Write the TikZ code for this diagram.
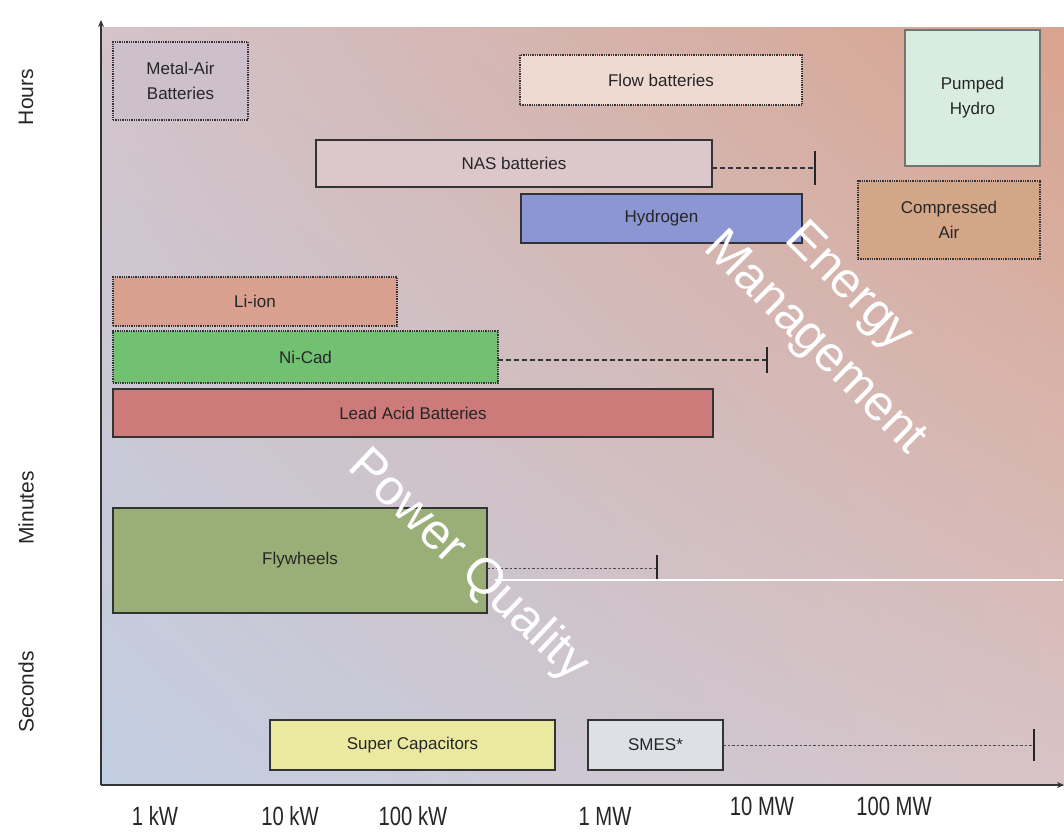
\documentclass[tikz,border=0pt]{standalone}
\usepackage{fontspec}
\setmainfont{Liberation Sans}
\usetikzlibrary{arrows.meta,shadings}
\definecolor{bgUL}{HTML}{D3C3CA}
\definecolor{bgUR}{HTML}{D8A38E}
\definecolor{bgLL}{HTML}{C2CEE2}
\definecolor{bgLR}{HTML}{D8C3C6}
\definecolor{cMetal}{HTML}{CDBFCC}
\definecolor{cFlow}{HTML}{EEDAD0}
\definecolor{cPumped}{HTML}{D8ECE0}
\definecolor{cNAS}{HTML}{DCC8CC}
\definecolor{cHydro}{HTML}{8C96D2}
\definecolor{cAir}{HTML}{D4A688}
\definecolor{cLiion}{HTML}{D9A090}
\definecolor{cNiCad}{HTML}{72C172}
\definecolor{cLead}{HTML}{CD7A7A}
\definecolor{cFly}{HTML}{9AAF78}
\definecolor{cSuper}{HTML}{EBE9A0}
\definecolor{cSMES}{HTML}{DDE1E6}
\definecolor{edge}{HTML}{333333}
\begin{document}
\begin{tikzpicture}[x=1pt,y=-1pt,
  box/.style={draw=edge, line width=1.3pt, anchor=north west, inner sep=0pt, outer sep=0pt,
    align=center, font=\fontsize{17}{25}\selectfont, text=black!85},
  dotbox/.style={box, densely dotted},
  ext/.style={draw=black!80, line width=1.1pt, dashed, dash pattern=on 5pt off 3pt},
  fineext/.style={draw=black!70, line width=1pt, dash pattern=on 2.5pt off 2pt},
  tick/.style={draw=black!85, line width=1.4pt},
  axlab/.style={font=\fontsize{22}{24}\selectfont, text=black!85},
  ylab/.style={font=\fontsize{21}{24}\selectfont, text=black!85, rotate=90},
  big/.style={font=\fontsize{50}{54}\selectfont, text=white}
]
\useasboundingbox (0,0) rectangle (1064,832);
\fill[white] (0,0) rectangle (1064,832);
% plot background
\shade[upper left=bgUL, upper right=bgUR, lower left=bgLL, lower right=bgLR] (101,28) rectangle (1064,785);

% boxes
\node[dotbox, fill=cMetal, minimum width=135pt, minimum height=78pt] (metal) at (113,42) {Metal-Air\\Batteries};
\node[dotbox, fill=cFlow, minimum width=282pt, minimum height=50pt] (flow) at (520,55) {Flow batteries};
\node[box, draw=black!55, fill=cPumped, minimum width=135pt, minimum height=136pt] (pumped) at (905,30) {Pumped\\Hydro};
\node[box, fill=cNAS, minimum width=396pt, minimum height=47pt] (nas) at (316,140) {NAS batteries};
\node[box, fill=cHydro, minimum width=281pt, minimum height=49pt] (hydro) at (521,194) {Hydrogen};
\node[dotbox, fill=cAir, minimum width=182pt, minimum height=78pt] (air) at (858,181) {Compressed\\Air};
\node[dotbox, fill=cLiion, minimum width=284pt, minimum height=49pt] (liion) at (113,277) {Li-ion};
\node[dotbox, fill=cNiCad, minimum width=385pt, minimum height=52pt] (nicad) at (113,331) {Ni-Cad};
\node[box, fill=cLead, minimum width=600pt, minimum height=48pt] (lead) at (113,389) {Lead Acid Batteries};
\node[box, fill=cFly, minimum width=374pt, minimum height=105pt] (fly) at (113,508) {Flywheels};
\node[box, fill=cSuper, minimum width=285pt, minimum height=50pt] (super) at (270,720) {Super Capacitors};
\node[box, fill=cSMES, minimum width=135pt, minimum height=50pt] (smes) at (588,720) {SMES*};

% extensions
\coordinate (nasend) at (815,168);
\draw[ext] (nas.east |- nasend) -- (nasend);
\draw[tick] (nasend) ++(0,-17) -- ++(0,34);
\coordinate (nicadend) at (767,360);
\draw[ext] (nicad.east |- nicadend) -- (nicadend);
\draw[tick] (nicadend) ++(0,-13) -- ++(0,26);
\coordinate (flyend) at (657,568);
\draw[fineext] (fly.east |- flyend) -- (flyend);
\draw[tick] (flyend) ++(0,-13) -- ++(0,26);
\coordinate (smesend) at (1034,745);
\draw[fineext] (smes.east |- smesend) -- (smesend);
\draw[tick] (smesend) ++(0,-16) -- ++(0,32);
\coordinate (wl0) at (495,580);
\coordinate (wl1) at (1063,580);
\draw[white, line width=1.2pt] (wl0) -- (wl1);

% diagonal labels
\node[big, rotate=-45] (energy) at (848,288) {Energy};
\node[big, rotate=-45] (mgmt) at (814,344) {Management};
\node[big, rotate=-43.5] (pq) at (468,566) {Power Quality};

% axes
\coordinate (O) at (101,785);
\coordinate (ytop) at (101,20);
\coordinate (xend) at (1064,785);
\draw[line width=1.3pt, draw=black!80, -{Stealth[length=7pt,width=6pt]}] (O) -- (ytop);
\draw[line width=1.3pt, draw=black!80, -{Stealth[length=7pt,width=6pt]}] (O) -- (xend);

% axis labels
\node[axlab] (k1) at (155,816) {\scalebox{0.92}[1.2]{1 kW}};
\node[axlab] (k10) at (290,816) {\scalebox{0.92}[1.2]{10 kW}};
\node[axlab] (k100) at (413,816) {\scalebox{0.92}[1.2]{100 kW}};
\node[axlab] (m1) at (605,816) {\scalebox{0.92}[1.2]{1 MW}};
\node[axlab] (m10) at (762,806) {\scalebox{0.92}[1.2]{10 MW}};
\node[axlab] (m100) at (894,806) {\scalebox{0.92}[1.2]{100 MW}};
\node[ylab] (hours) at (26,97) {Hours};
\node[ylab] (minutes) at (26,508) {Minutes};
\node[ylab] (seconds) at (26,692) {Seconds};
\end{tikzpicture}
\end{document}
